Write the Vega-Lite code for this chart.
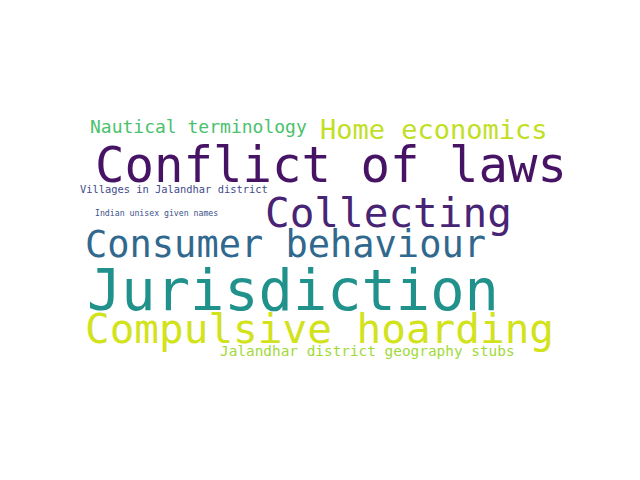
{
  "$schema": "https://vega.github.io/schema/vega-lite/v6.json",
  "width": 640, "height": 480,
  "autosize": {"type": "fit", "contains": "padding"},
  "padding": 0,
  "background": "white",
  "config": {"view": {"stroke": null}},
  "data": {"values": [
    {"word": "Conflict of laws", "x": 95, "y": 167, "s": 49},
    {"word": "Jurisdiction", "x": 87, "y": 293, "s": 57},
    {"word": "Compulsive hoarding", "x": 85, "y": 331, "s": 41},
    {"word": "Collecting", "x": 265, "y": 215, "s": 41},
    {"word": "Consumer behaviour", "x": 85, "y": 246, "s": 37},
    {"word": "Home economics", "x": 320, "y": 131, "s": 27},
    {"word": "Nautical terminology", "x": 90, "y": 128, "s": 18},
    {"word": "Jalandhar district geography stubs", "x": 220, "y": 352, "s": 14.4},
    {"word": "Villages in Jalandhar district", "x": 80, "y": 190, "s": 10.4},
    {"word": "Indian unisex given names", "x": 95, "y": 214, "s": 8.2}
  ]},
  "mark": {"type": "text", "font": "DejaVu Sans Mono", "align": "left", "baseline": "middle"},
  "encoding": {
    "x": {"field": "x", "type": "quantitative", "scale": {"domain": [0, 640], "range": [0, 640]}, "axis": null},
    "y": {"field": "y", "type": "quantitative", "scale": {"domain": [0, 480], "range": [0, 480]}, "axis": null},
    "size": {"field": "s", "type": "quantitative", "scale": {"type": "linear", "domain": [0, 100], "range": [0, 100]}, "legend": null},
    "text": {"field": "word"},
    "color": {"field": "word", "type": "nominal", "legend": null, "scale": {
      "domain": ["Conflict of laws", "Jurisdiction", "Compulsive hoarding", "Collecting", "Consumer behaviour", "Home economics", "Nautical terminology", "Jalandhar district geography stubs", "Villages in Jalandhar district", "Indian unisex given names"],
      "range": ["#471365", "#21918c", "#d2e21b", "#482475", "#31688e", "#c0df25", "#4ac16d", "#a0da39", "#3e4a89", "#3b528b"]}}
  }
}
